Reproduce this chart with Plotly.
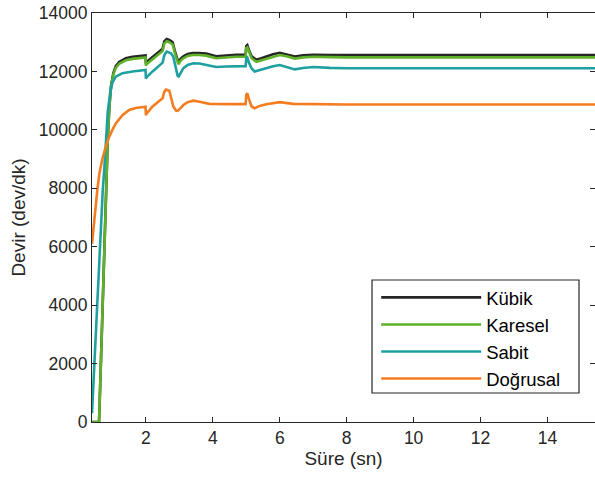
import plotly.graph_objects as go

# ---- data ----
t_karesel = [0.39, 0.60, 0.65, 0.70, 0.76, 0.81, 0.86, 0.91, 0.96, 1.03, 1.10, 1.20, 1.40, 1.60, 1.80, 1.99,
             2.00, 2.02, 2.20, 2.40, 2.50, 2.55, 2.62, 2.70, 2.80, 2.86, 2.93, 2.97, 3.05, 3.12, 3.25, 3.40,
             3.60, 3.80, 4.10, 4.40, 4.70, 4.98, 5.00, 5.03, 5.08, 5.16, 5.30, 5.45, 5.60, 5.80, 6.00, 6.20,
             6.45, 6.70, 7.00, 7.50, 8.00, 10.0, 12.0, 15.5]
karesel = [0, 0, 1800, 3700, 6230, 8000, 9650, 10800, 11500, 11900, 12120, 12260, 12380, 12430, 12460, 12480,
           12200, 12250, 12420, 12600, 12700, 12950, 13030, 13000, 12920, 12650, 12350, 12250, 12380, 12450, 12530, 12560,
           12560, 12540, 12450, 12480, 12500, 12500, 12800, 12820, 12650, 12450, 12330, 12380, 12440, 12520, 12560, 12520,
           12440, 12480, 12500, 12490, 12480, 12480, 12480, 12480]

t_kubik = t_karesel
kubik = [0, 0, 1800, 3700, 6230, 8000, 9650, 10800, 11520, 11950, 12180, 12320, 12450, 12500, 12530, 12550,
         12270, 12320, 12490, 12670, 12780, 13030, 13110, 13080, 13000, 12720, 12420, 12320, 12450, 12520, 12600, 12630,
         12630, 12610, 12520, 12550, 12570, 12570, 12870, 12900, 12720, 12520, 12400, 12450, 12510, 12590, 12640, 12590,
         12510, 12550, 12570, 12560, 12560, 12560, 12560, 12560]

t_sabit = [0.39, 0.45, 0.50, 0.55, 0.61, 0.66, 0.71, 0.76, 0.81, 0.86, 0.93, 1.00, 1.10, 1.30, 1.60, 1.99,
           2.00, 2.02, 2.20, 2.40, 2.50, 2.55, 2.62, 2.75, 2.82, 2.88, 2.95, 2.98, 3.05, 3.12, 3.25, 3.42,
           3.60, 3.80, 4.10, 4.40, 4.70, 4.98, 5.00, 5.03, 5.08, 5.16, 5.25, 5.40, 5.60, 5.80, 6.00, 6.20,
           6.45, 6.70, 7.00, 7.50, 8.00, 10.0, 12.0, 15.5]
sabit = [300, 1800, 3000, 4200, 5800, 7000, 7900, 8700, 9800, 10600, 11250, 11620, 11820, 11940, 12000, 12050,
         11750, 11800, 12000, 12200, 12300, 12550, 12680, 12620, 12500, 12200, 11850, 11830, 12000, 12110, 12220, 12280,
         12270, 12230, 12150, 12170, 12180, 12180, 12450, 12480, 12300, 12100, 12000, 12050, 12120, 12180, 12220, 12150,
         12070, 12120, 12150, 12120, 12110, 12110, 12110, 12110]

t_dogrusal = [0.39, 0.45, 0.50, 0.55, 0.61, 0.70, 0.80, 0.90, 1.00, 1.10, 1.30, 1.50, 1.70, 1.99,
              2.00, 2.02, 2.20, 2.40, 2.50, 2.55, 2.60, 2.70, 2.76, 2.82, 2.90, 2.95, 3.05, 3.12, 3.25, 3.42,
              3.60, 3.90, 4.50, 4.98, 5.00, 5.03, 5.08, 5.16, 5.25, 5.40, 5.60, 6.00, 6.40, 7.00, 8.00, 15.5]
dogrusal = [6100, 6900, 7500, 7950, 8500, 9000, 9420, 9750, 10000, 10220, 10500, 10680, 10750, 10790,
            10500, 10550, 10800, 11000, 11080, 11300, 11380, 11340, 11100, 10800, 10660, 10650, 10760, 10850, 10950, 11000,
            10960, 10890, 10880, 10880, 11200, 11250, 11050, 10800, 10740, 10820, 10880, 10950, 10890, 10880, 10870, 10870]

series = [
    ("Kübik", t_kubik, kubik, "#262626"),
    ("Karesel", t_karesel, karesel, "#5FB12A"),
    ("Sabit", t_sabit, sabit, "#1FA0A0"),
    ("Doğrusal", t_dogrusal, dogrusal, "#F47D22"),
]

x_ticks = [2, 4, 6, 8, 10, 12, 14]
y_ticks = [0, 2000, 4000, 6000, 8000, 10000, 12000, 14000]

fig = go.Figure()
for name, t, v, c in series:
    fig.add_trace(go.Scatter(x=t, y=v, mode="lines", name=name,
                             line=dict(color=c, width=2.6)))

axcol = "#262626"
common = dict(showgrid=False, zeroline=False, showline=True, linecolor=axcol, linewidth=1.2,
              ticks="inside", ticklen=5, tickwidth=1, tickcolor=axcol, mirror="allticks",
              tickfont=dict(family="Liberation Sans, Arial", size=17.5, color=axcol))
fig.update_xaxes(range=[0.39, 15.42], tickvals=x_ticks, ticktext=[str(v) for v in x_ticks],
                 title=dict(text="Süre (sn)", font=dict(family="Liberation Sans, Arial", size=19, color=axcol),
                            standoff=4), **common)
fig.update_yaxes(range=[0, 14000], tickvals=y_ticks, ticktext=[str(v) for v in y_ticks],
                 title=dict(text="Devir (dev/dk)", font=dict(family="Liberation Sans, Arial", size=19, color=axcol),
                            standoff=8), **common)

# legend frame (wider than plotly's auto-sized box, as in the reference)
fig.add_shape(type="rect", xref="paper", yref="paper",
              x0=0.5567, x1=0.9682, y0=0.0709, y1=0.3472,
              line=dict(color=axcol, width=1.2), fillcolor="white", layer="below")

fig.update_layout(
    width=595, height=478,
    margin=dict(l=92, r=0, t=13, b=56),
    plot_bgcolor="white", paper_bgcolor="white",
    legend=dict(x=0.565, y=0.35, xanchor="left", yanchor="top",
                borderwidth=0, bgcolor="rgba(0,0,0,0)",
                font=dict(family="Liberation Sans, Arial", size=18.5, color="#000000"),
                itemwidth=100, tracegroupgap=0),
)

fig.write_html("out.html")
